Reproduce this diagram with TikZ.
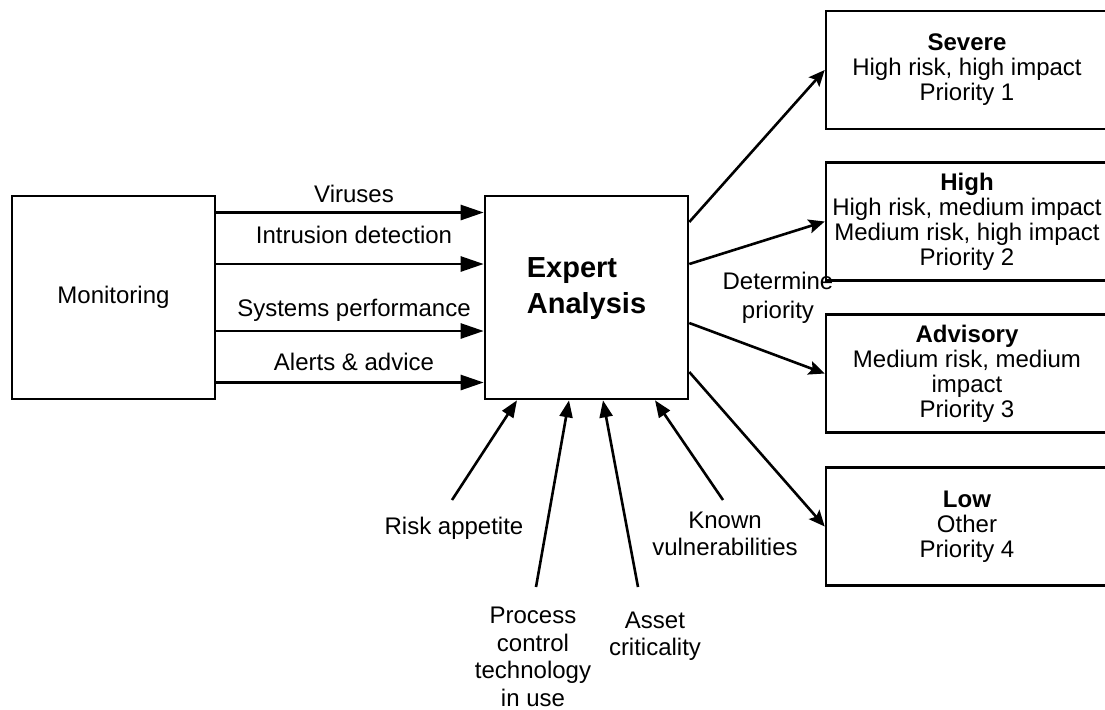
\documentclass[tikz,border=0pt]{standalone}
\usepackage{fontspec}
\setmainfont{Liberation Sans}
\usetikzlibrary{arrows.meta}

\begin{document}
\begin{tikzpicture}[x=0.5pt,y=-0.5pt,
    every node/.style={font=\fontsize{12}{12.5}\selectfont},
    box/.style={draw, line width=1.3pt, inner sep=0pt, minimum width=101.5pt, minimum height=101.5pt},
    prio/.style={draw, line width=1.3pt, align=center, inner sep=0pt, minimum width=141pt, minimum height=59pt},
    flow/.style={line width=1.3pt, -{Triangle[length=11.5pt,width=7.5pt]}},
    sendto/.style={line width=1.3pt, -{Stealth[length=8pt,width=7pt,inset=1.5pt]}},
    feed/.style={line width=1.3pt, -{Triangle[length=8.5pt,width=6.5pt]}},
    lbl/.style={align=center, inner sep=1pt, font=\fontsize{12}{13.75}\selectfont}
  ]
  \useasboundingbox (0,0) rectangle (1105,709);

  % main boxes
  \node[box] (mon) at (113.5,297.5) {Monitoring};
  \node[box, label={[name=exptext, font=\fontsize{14.5}{18}\selectfont\bfseries, align=left, yshift=4.25pt]center:Expert\\Analysis}] (exp) at (586.5,297.5) {};

  % priority classes
  \node[prio] (sev) at (967,70) {\textbf{Severe}\\High risk, high impact\\Priority 1};
  \node[prio] (high) at (967,221.5) {\textbf{High}\\High risk, medium impact\\Medium risk, high impact\\Priority 2};
  \node[prio] (adv) at (967,373.5) {\textbf{Advisory}\\Medium risk, medium\\impact\\Priority 3};
  \node[prio] (low) at (967,526.5) {\textbf{Low}\\Other\\Priority 4};

  % inputs from monitoring
  \foreach \dy/\lift/\txt in {42.5/5.25/Viruses, 16.75/10.2/Intrusion detection,
      -16.75/7.5/Systems performance, -42.5/6.25/Alerts \& advice}
    \draw[flow] ([yshift=\dy pt]mon.east) -- node[anchor=base, yshift=\lift pt, xshift=2pt] {\txt} ([yshift=\dy pt]exp.west);

  % outputs
  \draw[sendto] ([yshift=37.75pt]exp.east) -- (sev.west);
  \draw[sendto] ([yshift=16.75pt]exp.east) -- (high.west);
  \draw[sendto] ([yshift=-12.75pt]exp.east) -- (adv.west);
  \draw[sendto] ([yshift=-37.25pt]exp.east) -- (low.west);
  \node[lbl, font=\fontsize{12}{14.5}\selectfont] (det) at (778,297.5) {Determine\\priority};

  % other inputs
  \node[lbl] (risk) at (454,528) {Risk appetite};
  \node[lbl] (proc) at (533,657) {Process\\control\\technology\\in use};
  \node[lbl] (asset) at (655,636) {Asset\\criticality};
  \node[lbl] (known) at (725,534) {Known\\vulnerabilities};
  \coordinate (riskin) at (452,500);
  \coordinate (procin) at (536,587);
  \coordinate (assetin) at (638,587);
  \coordinate (knownin) at (723,500);
  \draw[feed] (riskin) -- ([xshift=-34.75pt]exp.south);
  \draw[feed] (procin) -- ([xshift=-8.75pt]exp.south);
  \draw[feed] (assetin) -- ([xshift=8.25pt]exp.south);
  \draw[feed] (knownin) -- ([xshift=34.25pt]exp.south);
\end{tikzpicture}
\end{document}
